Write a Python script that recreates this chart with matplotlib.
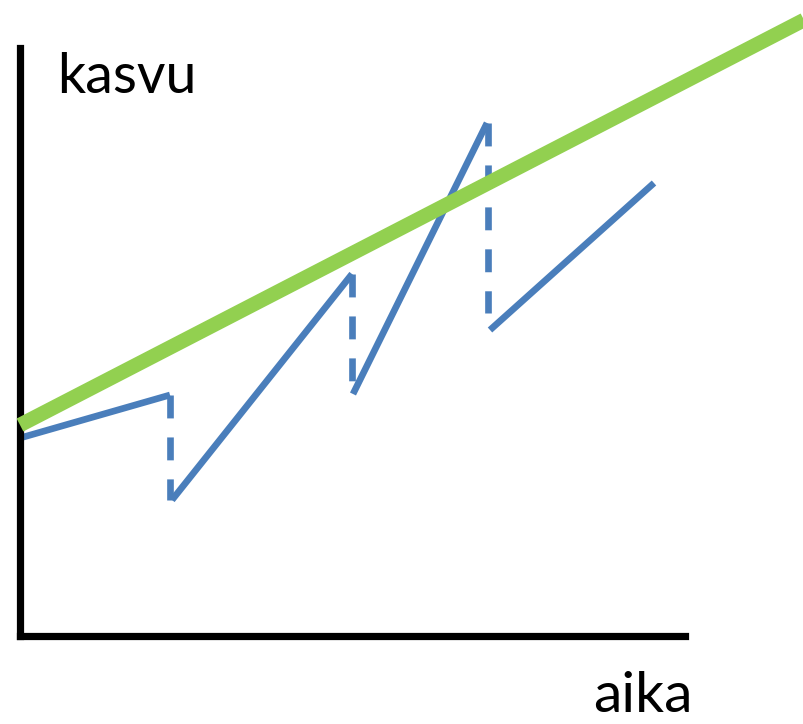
import matplotlib
matplotlib.use("Agg")
import matplotlib.pyplot as plt

# Sketch data (x: aika, y: kasvu), units roughly pixels from the axis corner
trend_x = [0, 784]
trend_y = [211, 616]

# solid pieces of the growth curve
solid_x = [[0, 150], [152, 332], [333, 467], [470, 634]]
solid_y = [[198, 241], [136, 362], [242, 513], [306, 453]]

# dashed drops between the pieces
drop_x = [150, 332, 468]
drop_top = [241, 362, 513]
drop_bottom = [136, 250, 323]

y_label = "kasvu"
x_label = "aika"

BLUE = "#4a7ebb"
GREEN = "#92d050"

plt.rcParams['lines.scale_dashes'] = False
plt.rcParams['font.family'] = ['Lato', 'DejaVu Sans']

fig = plt.figure(figsize=(8.04, 7.24), dpi=100)
W, H = 804, 724
ax = fig.add_axes([20 / W, (H - 636) / H, 665 / W, 588 / H])
ax.set_xlim(0, 665)
ax.set_ylim(0, 588)

# only the left and bottom axis lines, thick and black
for side in ['top', 'right']:
    ax.spines[side].set_visible(False)
for side in ['left', 'bottom']:
    ax.spines[side].set_linewidth(5.2)
    ax.spines[side].set_color('black')
    ax.spines[side].set_capstyle('projecting')
ax.set_xticks([])
ax.set_yticks([])

# green trend line, runs off the top right of the figure
ax.plot(trend_x, trend_y, color=GREEN, linewidth=10.5, solid_capstyle='butt',
        clip_on=False, zorder=3)

# blue saw-tooth growth
for xs, ys in zip(solid_x, solid_y):
    ax.plot(xs, ys, color=BLUE, linewidth=4.8, solid_capstyle='butt',
            clip_on=False, zorder=2)
for x, top, bottom in zip(drop_x, drop_top, drop_bottom):
    ax.plot([x, x], [top, bottom], color=BLUE, linewidth=4.8,
            linestyle=(0, (16.5, 13.7)), dash_capstyle='butt',
            clip_on=False, zorder=2)

ax.text(37, 543, y_label, fontsize=40, va='baseline', ha='left', color='black')
ax.text(573, -76, x_label, fontsize=41, va='baseline', ha='left', color='black',
        clip_on=False)

fig.savefig("out.png", dpi=100)
